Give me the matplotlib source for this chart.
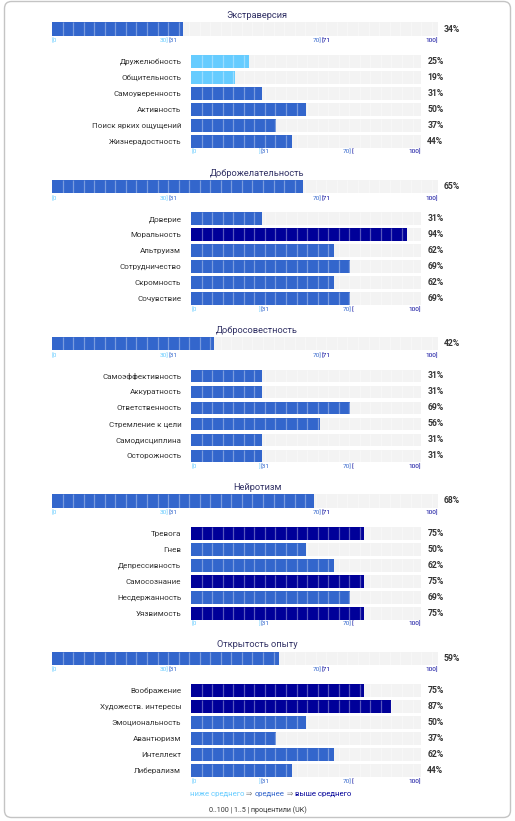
import matplotlib
matplotlib.use('Agg')
import matplotlib.pyplot as plt
from matplotlib.patches import FancyBboxPatch
import numpy as np

plt.rcParams['font.family'] = ['Roboto', 'DejaVu Sans']

# ---- data ----
domains = ['Экстраверсия', 'Доброжелательность', 'Добросовестность', 'Нейротизм', 'Открытость опыту']
domain_scores = [34, 65, 42, 68, 59]

extraversion_facets = ['Дружелюбность', 'Общительность', 'Самоуверенность', 'Активность',
                       'Поиск ярких ощущений', 'Жизнерадостность']
extraversion_scores = [25, 19, 31, 50, 37, 44]

agreeableness_facets = ['Доверие', 'Моральность', 'Альтруизм', 'Сотрудничество', 'Скромность', 'Сочувствие']
agreeableness_scores = [31, 94, 62, 69, 62, 69]

conscientiousness_facets = ['Самоэффективность', 'Аккуратность', 'Ответственность', 'Стремление к цели',
                            'Самодисциплина', 'Осторожность']
conscientiousness_scores = [31, 31, 69, 56, 31, 31]

neuroticism_facets = ['Тревога', 'Гнев', 'Депрессивность', 'Самосознание', 'Несдержанность', 'Уязвимость']
neuroticism_scores = [75, 50, 62, 75, 69, 75]

openness_facets = ['Воображение', 'Художеств. интересы', 'Эмоциональность', 'Авантюризм', 'Интеллект',
                   'Либерализм']
openness_scores = [75, 87, 50, 37, 62, 44]

facet_names = [extraversion_facets, agreeableness_facets, conscientiousness_facets,
               neuroticism_facets, openness_facets]
facet_scores = [extraversion_scores, agreeableness_scores, conscientiousness_scores,
                neuroticism_scores, openness_scores]

legend_parts = ['ниже среднего', ' ⇒ ', 'среднее', ' ⇒ ', 'выше среднего']
footer = '0..100 | 1..5 | процентили (UK)'

# ---- style ----
LOW, MID, HIGH = '#66ccff', '#3366cc', '#000099'
BG = '#f3f3f3'
TXT = '#333333'
W, H = 515, 821
CELL_PX = 10.55


def level_color(v):
    if v <= 30:
        return LOW
    if v <= 70:
        return MID
    return HIGH


def px_axes(fig, x0, y0, x1, y1):
    return fig.add_axes([x0 / W, 1 - y1 / H, (x1 - x0) / W, (y1 - y0) / H])


def clean(ax):
    for s in ax.spines.values():
        s.set_visible(False)
    ax.set_xlim(0, 100)
    ax.set_xticks([])
    ax.tick_params(axis='y', length=0)


def draw_bars(ax, values, height, width_px, label_pad, vsize):
    ypos = np.arange(len(values))
    bg = ax.barh(ypos, [100] * len(values), height=height, color=BG, zorder=1)
    ax.barh(ypos, values, height=height, color=[level_color(v) for v in values], zorder=2)
    # cell separators
    step = 100 * CELL_PX / width_px
    xs = np.arange(step, 100, step)
    for y in ypos:
        ax.vlines(xs, y - height / 2, y + height / 2, color='white', lw=0.9, alpha=0.35, zorder=3)
    ax.bar_label(bg, labels=[f'{v}%' for v in values], padding=label_pad,
                 fontsize=vsize, fontweight='bold', color=TXT)


def scale_labels(ax, parts, dy):
    for x, s, ha, c in parts:
        ax.annotate(s, xy=(x, 0), xycoords=('data', 'axes fraction'),
                    xytext=(0, dy), textcoords='offset points',
                    ha=ha, va='center', fontsize=4.6, color=c)


fig = plt.figure(figsize=(W / 100, H / 100), dpi=100)
fig.patch.set_facecolor('white')

base = fig.add_axes([0, 0, 1, 1])
base.set_xlim(0, W)
base.set_ylim(H, 0)
base.axis('off')
base.add_patch(FancyBboxPatch((4.5, 1.5), 506, 816, boxstyle='round,pad=0,rounding_size=7',
                              fc='white', ec='#c4c4c4', lw=1.0))

big_ticks = [(0, '[0', 'left', LOW), (30.3, '30]', 'right', LOW), (30.3, '[31', 'left', MID),
             (70, '70]', 'right', MID), (70, '[71', 'left', HIGH), (100, '100]', 'right', HIGH)]
small_ticks = [(0, '[0', 'left', LOW), (30.3, ']', 'right', LOW), (30.3, '[31', 'left', MID),
               (70, '70]', 'right', MID), (70, '[', 'left', HIGH), (100, '100]', 'right', HIGH)]

t0, step_y = 15.7, 157.3
for i, name in enumerate(domains):
    t = t0 + i * step_y
    base.text(257, t, name, ha='center', va='center', fontsize=6.7, color='#333366')

    # domain bar
    ax = px_axes(fig, 52, t + 6.6, 437.5, t + 20.1)
    clean(ax)
    ax.set_ylim(-0.5, 0.5)
    ax.set_yticks([])
    draw_bars(ax, [domain_scores[i]], 1.0, 385.5, 4.5, 6.2)
    scale_labels(ax, big_ticks, -3.6)

    # facet bars
    ax = px_axes(fig, 191, t + 37.6, 421, t + 133.6)
    clean(ax)
    ax.set_ylim(5.5, -0.5)
    ax.set_yticks(range(len(facet_names[i])))
    ax.set_yticklabels(facet_names[i], fontsize=5.8, color=TXT)
    ax.tick_params(axis='y', pad=7)
    draw_bars(ax, facet_scores[i], 0.79, 230, 4.5, 6.2)
    scale_labels(ax, small_ticks, -2.0)

# legend line
colors = [LOW, '#888888', MID, '#888888', HIGH]
prev = base.text(190, 794, legend_parts[0], ha='left', va='center', fontsize=5.6, color=colors[0])
for s, c in zip(legend_parts[1:], colors[1:]):
    prev = base.annotate(s, xy=(1, 0), xycoords=prev, ha='left', va='bottom',
                         fontsize=5.6, color=c)

base.text(257.5, 810, footer, ha='center', va='center', fontsize=5.1, color=TXT)

fig.savefig('out.png', dpi=100)
